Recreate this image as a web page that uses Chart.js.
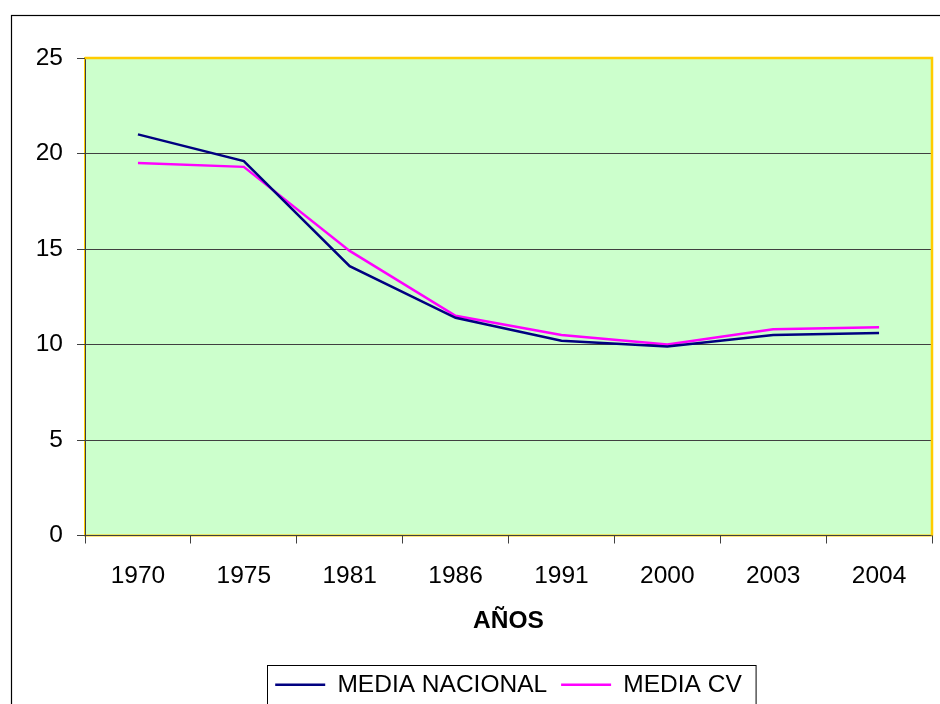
<!DOCTYPE html>
<html><head><meta charset="utf-8">
<script src="https://cdn.jsdelivr.net/npm/chart.js@4.4.0/dist/chart.umd.min.js"></script>
<style>html,body{margin:0;padding:0;background:#fff}canvas{display:block}</style>
</head><body>
<canvas id="c" width="940" height="704"></canvas>
<script>
const categories = ['1970','1975','1981','1986','1991','2000','2003','2004'];
const mediaNacional = [21.0, 19.6, 14.1, 11.4, 10.2, 9.9, 10.5, 10.6];
const mediaCV = [19.5, 19.3, 14.9, 11.5, 10.5, 10.0, 10.8, 10.9];
const yMin = 0, yMax = 25, yStep = 5;
const seriesNames = ['MEDIA NACIONAL', 'MEDIA CV'];
const axisTitle = 'AÑOS';

const FONT = "'Liberation Sans', Arial, sans-serif";
const FS = 24.5;

const decor = {
  id: 'decor',
  beforeDraw(chart) {
    const {ctx, chartArea: a} = chart;
    ctx.save();
    ctx.fillStyle = '#CCFFCC';
    ctx.fillRect(a.left, a.top, a.right - a.left, a.bottom - a.top);
    ctx.strokeStyle = '#FFCC00';
    ctx.lineWidth = 2;
    ctx.strokeRect(a.left, a.top, a.right - a.left, a.bottom - a.top);
    ctx.restore();
  },
  afterDatasetsDraw(chart) {
    const {ctx, chartArea: a} = chart;
    ctx.save();
    ctx.strokeStyle = '#FFCC00';
    ctx.lineWidth = 2.5;
    ctx.beginPath();
    ctx.moveTo(a.left, a.top);
    ctx.lineTo(a.right, a.top);
    ctx.lineTo(a.right, a.bottom);
    ctx.stroke();
    ctx.restore();
  },
  afterDraw(chart) {
    const {ctx} = chart;
    ctx.save();
    ctx.strokeStyle = '#000';
    ctx.lineWidth = 1.2;
    ctx.strokeRect(11.5, 15.5, 960, 720);
    const lg = chart.legend;
    if (lg && lg.legendHitBoxes && lg.legendHitBoxes.length) {
      const hb = lg.legendHitBoxes;
      const l = Math.min(...hb.map(h => h.left)) - 8;
      const r = Math.max(...hb.map(h => h.left + h.width)) + 14;
      const t = Math.min(...hb.map(h => h.top)) - 8;
      ctx.lineWidth = 1;
      ctx.strokeStyle = '#000';
      ctx.strokeRect(Math.round(l) + 0.5, Math.round(t) + 0.5, r - l, 100);
    }
    ctx.restore();
  }
};

new Chart(document.getElementById('c'), {
  type: 'line',
  data: {
    labels: categories,
    datasets: [
      {label: seriesNames[0], data: mediaNacional, borderColor: '#000080', backgroundColor: '#000080', borderWidth: 2.5, pointRadius: 0, tension: 0},
      {label: seriesNames[1], data: mediaCV, borderColor: '#FF00FF', backgroundColor: '#FF00FF', borderWidth: 2.5, pointRadius: 0, tension: 0}
    ]
  },
  options: {
    responsive: false,
    devicePixelRatio: 1,
    animation: false,
    layout: {padding: {top: 58, right: 8, left: 0, bottom: -3}},
    plugins: {
      legend: {
        display: true,
        position: 'bottom',
        fullSize: false,
        labels: {
          usePointStyle: true,
          pointStyle: 'line',
          pointStyleWidth: 50,
          padding: 14,
          color: '#000',
          font: {family: FONT, size: FS}
        }
      },
      tooltip: {enabled: false}
    },
    scales: {
      x: {
        offset: true,
        grid: {display: true, offset: true, drawOnChartArea: false, drawTicks: true, tickLength: 8, color: '#404040'},
        border: {display: true, color: '#404040', width: 1},
        ticks: {color: '#000', font: {family: FONT, size: FS}, padding: 18, maxRotation: 0},
        title: {display: true, text: axisTitle, color: '#000', font: {family: FONT, size: FS, weight: 'bold'}, padding: {top: 10, bottom: 23}},
        afterFit(s) { s.height = 123; }
      },
      y: {
        min: yMin, max: yMax,
        grid: {display: true, drawTicks: true, tickLength: 8, color: '#404040', lineWidth: 1},
        border: {display: true, color: '#404040', width: 1},
        ticks: {stepSize: yStep, color: '#000', font: {family: FONT, size: FS}, padding: 14},
        afterFit(s) { s.width = 85; }
      }
    }
  },
  plugins: [decor]
});
</script>
</body></html>
